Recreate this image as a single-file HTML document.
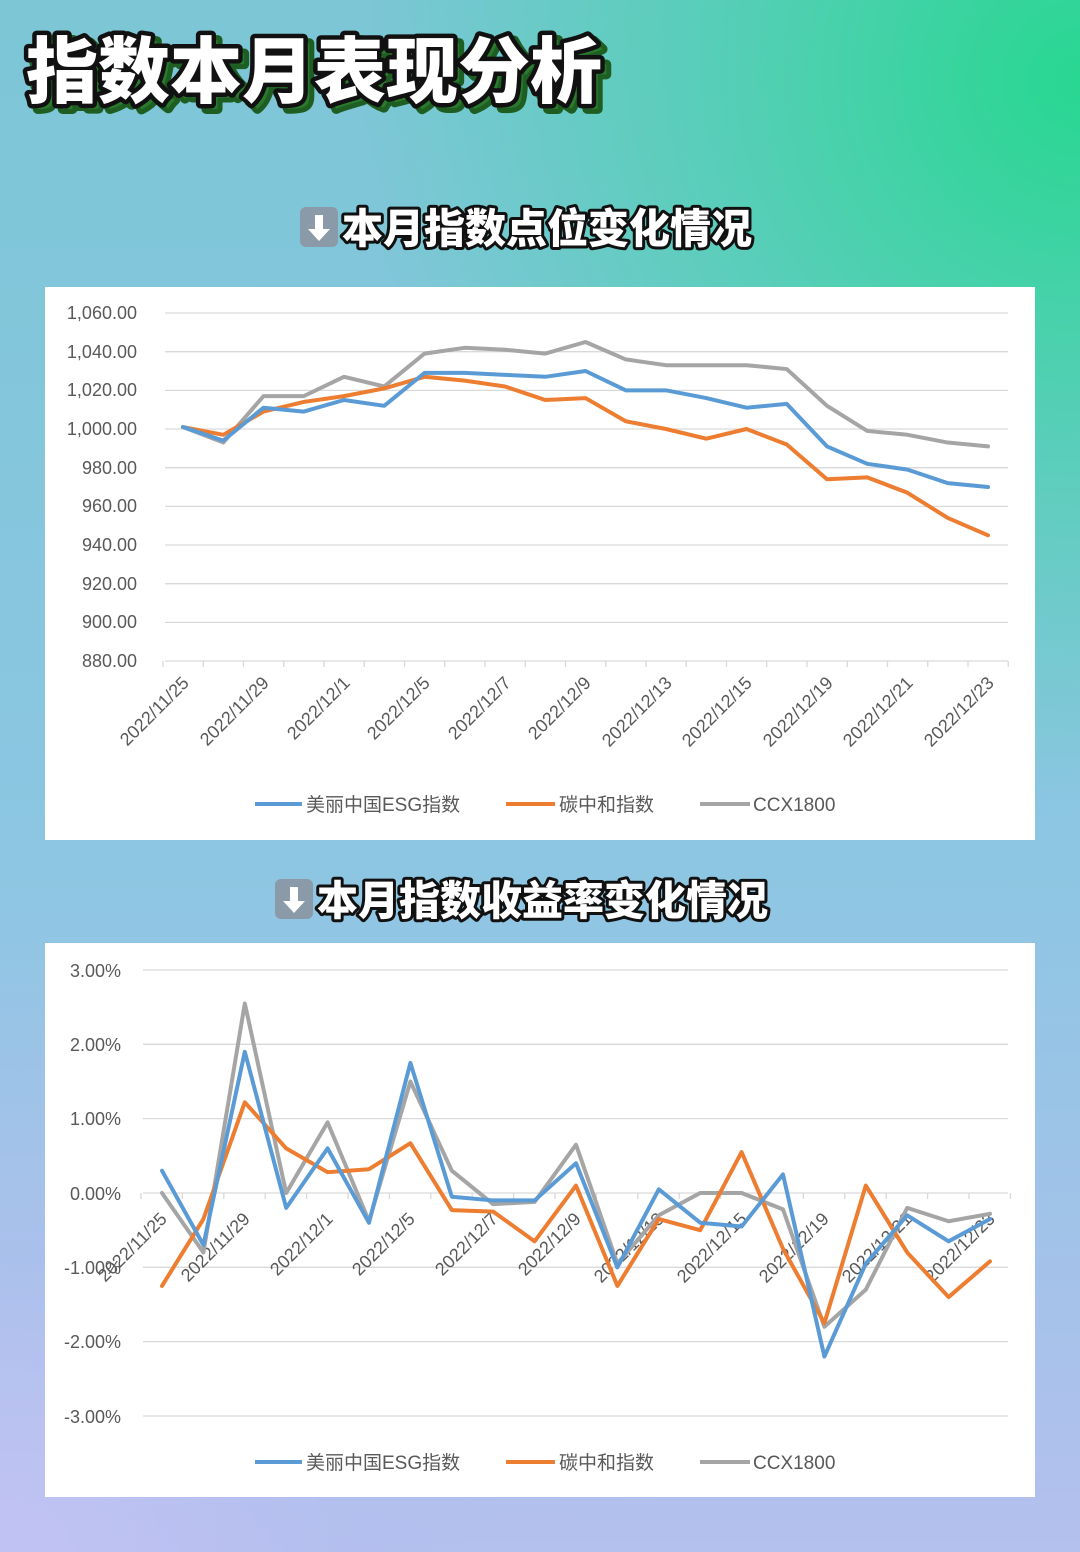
<!DOCTYPE html>
<html><head><meta charset="utf-8">
<style>
html,body{margin:0;padding:0;}
body{width:1080px;height:1552px;overflow:hidden;background:linear-gradient(180deg,#7cc6d6 0%,#8cc6e2 55%,#b4c0ee 100%);position:relative;font-family:"Liberation Sans","Noto Sans CJK SC",sans-serif;}
.bg1{position:absolute;inset:0;background:radial-gradient(ellipse 900px 900px at 1080px 80px,rgba(40,215,145,1) 0%,rgba(70,210,170,0.7) 40%,rgba(110,200,210,0) 80%);}
.bg2{position:absolute;inset:0;background:radial-gradient(ellipse 700px 600px at 0px 1552px,rgba(195,195,245,0.9) 0%,rgba(180,190,240,0.4) 50%,rgba(170,190,240,0) 100%);}
svg{position:absolute;left:0;top:0;}
.ttl{font-family:"Noto Sans CJK SC",sans-serif;font-weight:900;fill:#fff;stroke:#111;paint-order:stroke;stroke-linejoin:round;}
.ax{font-family:"Liberation Sans","Noto Sans CJK SC",sans-serif;font-size:18px;fill:#595959;}
.lg{font-family:"Liberation Sans","Noto Sans CJK SC",sans-serif;font-size:19px;fill:#595959;}
.grid{stroke:#d9d9d9;stroke-width:1.3;}
</style></head><body>
<div class="bg1"></div>
<div class="bg2"></div>
<svg width="1080" height="1552" viewBox="0 0 1080 1552">
<text x="32" y="102" class="ttl" font-size="72" style="fill:#2a7a2e;stroke:#1e5e22" stroke-width="10">指数本月表现分析</text>
<text x="26" y="97" class="ttl" font-size="72" stroke-width="9">指数本月表现分析</text>
<rect x="300" y="207" width="38" height="40" rx="6" fill="#8a9aa8"/>
<path d="M315 215h8v14h7l-11 12-11-12h7z" fill="#fff"/>
<text x="342" y="243" class="ttl" font-size="41" stroke-width="6">本月指数点位变化情况</text>
<rect x="45" y="287" width="990" height="553" fill="#fff"/>
<g id="c1grid"></g>
<g class="ax" text-anchor="end">
<text x="137" y="319">1,060.00</text><text x="137" y="358">1,040.00</text><text x="137" y="396">1,020.00</text><text x="137" y="435">1,000.00</text><text x="137" y="474">980.00</text><text x="137" y="512">960.00</text><text x="137" y="551">940.00</text><text x="137" y="590">920.00</text><text x="137" y="628">900.00</text><text x="137" y="667">880.00</text>
</g>
<g class="ax" text-anchor="end">
<text transform="translate(190,684) rotate(-45)">2022/11/25</text>
<text transform="translate(270,684) rotate(-45)">2022/11/29</text>
<text transform="translate(351,684) rotate(-45)">2022/12/1</text>
<text transform="translate(431,684) rotate(-45)">2022/12/5</text>
<text transform="translate(512,684) rotate(-45)">2022/12/7</text>
<text transform="translate(592,684) rotate(-45)">2022/12/9</text>
<text transform="translate(673,684) rotate(-45)">2022/12/13</text>
<text transform="translate(753,684) rotate(-45)">2022/12/15</text>
<text transform="translate(834,684) rotate(-45)">2022/12/19</text>
<text transform="translate(914,684) rotate(-45)">2022/12/21</text>
<text transform="translate(995,684) rotate(-45)">2022/12/23</text>
</g>
<g id="c1lines"></g>
<g class="lg">
<line x1="255" y1="804" x2="302" y2="804" stroke="#5b9bd5" stroke-width="4"/><text x="306" y="811">美丽中国ESG指数</text>
<line x1="506" y1="804" x2="555" y2="804" stroke="#ed7d31" stroke-width="4"/><text x="559" y="811">碳中和指数</text>
<line x1="700" y1="804" x2="750" y2="804" stroke="#a5a5a5" stroke-width="4"/><text x="753" y="811">CCX1800</text>
</g>
<rect x="275" y="879" width="38" height="40" rx="6" fill="#8a9aa8"/>
<path d="M290 887h8v14h7l-11 12-11-12h7z" fill="#fff"/>
<text x="317" y="915" class="ttl" font-size="41" stroke-width="6">本月指数收益率变化情况</text>
<rect x="45" y="943" width="990" height="554" fill="#fff"/>
<g id="c2grid"></g>
<g class="ax" text-anchor="end">
<text x="121" y="977">3.00%</text><text x="121" y="1051">2.00%</text><text x="121" y="1125">1.00%</text><text x="121" y="1200">0.00%</text><text x="121" y="1274">-1.00%</text><text x="121" y="1348">-2.00%</text><text x="121" y="1423">-3.00%</text>
</g>
<g class="ax" text-anchor="end">
<text transform="translate(168,1220) rotate(-45)">2022/11/25</text>
<text transform="translate(251,1220) rotate(-45)">2022/11/29</text>
<text transform="translate(334,1220) rotate(-45)">2022/12/1</text>
<text transform="translate(416,1220) rotate(-45)">2022/12/5</text>
<text transform="translate(499,1220) rotate(-45)">2022/12/7</text>
<text transform="translate(582,1220) rotate(-45)">2022/12/9</text>
<text transform="translate(665,1220) rotate(-45)">2022/12/13</text>
<text transform="translate(748,1220) rotate(-45)">2022/12/15</text>
<text transform="translate(830,1220) rotate(-45)">2022/12/19</text>
<text transform="translate(913,1220) rotate(-45)">2022/12/21</text>
<text transform="translate(996,1220) rotate(-45)">2022/12/23</text>
</g>
<g id="c2lines"></g>
<g class="lg">
<line x1="255" y1="1462" x2="302" y2="1462" stroke="#5b9bd5" stroke-width="4"/><text x="306" y="1469">美丽中国ESG指数</text>
<line x1="506" y1="1462" x2="555" y2="1462" stroke="#ed7d31" stroke-width="4"/><text x="559" y="1469">碳中和指数</text>
<line x1="700" y1="1462" x2="750" y2="1462" stroke="#a5a5a5" stroke-width="4"/><text x="753" y="1469">CCX1800</text>
</g>
</svg>
<script>
var NS="http://www.w3.org/2000/svg";
function el(p,t,a){var e=document.createElementNS(NS,t);for(var k in a)e.setAttribute(k,a[k]);p.appendChild(e);return e;}
var g1=document.getElementById('c1grid');
for(var i=0;i<10;i++){var y=313+i*38.67;el(g1,'line',{x1:165,x2:1008,y1:y,y2:y,'class':'grid'});}
for(var i=0;i<=21;i++){var x=163+i*40.25;el(g1,'line',{x1:x,x2:x,y1:661,y2:667,stroke:'#d9d9d9','stroke-width':1.3});}
var esg=[1001,994,1011,1009,1015,1012,1029,1029,1028,1027,1030,1020,1020,1016,1011,1013,991,982,979,972,970];
var tan=[1001,997,1009,1014,1017,1021,1027,1025,1022,1015,1016,1004,1000,995,1000,992,974,975,967,954,945];
var ccx=[1001,993,1017,1017,1027,1022,1039,1042,1041,1039,1045,1036,1033,1033,1033,1031,1012,999,997,993,991];
var l1=document.getElementById('c1lines');
function pl(p,arr,fx,fy,c){var s=arr.map(function(v,i){return fx(i)+','+fy(v)}).join(' ');el(p,'polyline',{points:s,fill:'none',stroke:c,'stroke-width':4,'stroke-linejoin':'round','stroke-linecap':'round'});}
var fx1=function(i){return 183+i*40.25},fy1=function(v){return 313+(1060-v)*348/180};
pl(l1,ccx,fx1,fy1,'#a5a5a5');pl(l1,tan,fx1,fy1,'#ed7d31');pl(l1,esg,fx1,fy1,'#5b9bd5');
var g2=document.getElementById('c2grid');
for(var i=0;i<7;i++){var y=970+i*74.33;el(g2,'line',{x1:143,x2:1008,y1:y,y2:y,'class':'grid'});}
for(var i=0;i<=21;i++){var x=141+i*41.4;el(g2,'line',{x1:x,x2:x,y1:1193,y2:1199,stroke:'#d9d9d9','stroke-width':1.3});}
var e2=[0.3,-0.7,1.9,-0.2,0.6,-0.4,1.75,-0.05,-0.1,-0.1,0.4,-1.0,0.05,-0.4,-0.45,0.25,-2.2,-0.95,-0.3,-0.65,-0.35];
var t2=[-1.25,-0.35,1.22,0.6,0.28,0.32,0.67,-0.23,-0.25,-0.65,0.1,-1.25,-0.35,-0.5,0.55,-0.75,-1.75,0.1,-0.8,-1.4,-0.92];
var c2=[0.0,-0.8,2.55,0.0,0.95,-0.38,1.5,0.3,-0.15,-0.12,0.65,-0.95,-0.3,0.0,0.0,-0.22,-1.8,-1.3,-0.2,-0.38,-0.28];
var l2=document.getElementById('c2lines');
var fx2=function(i){return 162+i*41.4},fy2=function(v){return 1193-v*74.33};
pl(l2,c2,fx2,fy2,'#a5a5a5');pl(l2,t2,fx2,fy2,'#ed7d31');pl(l2,e2,fx2,fy2,'#5b9bd5');
</script>
</body></html>
